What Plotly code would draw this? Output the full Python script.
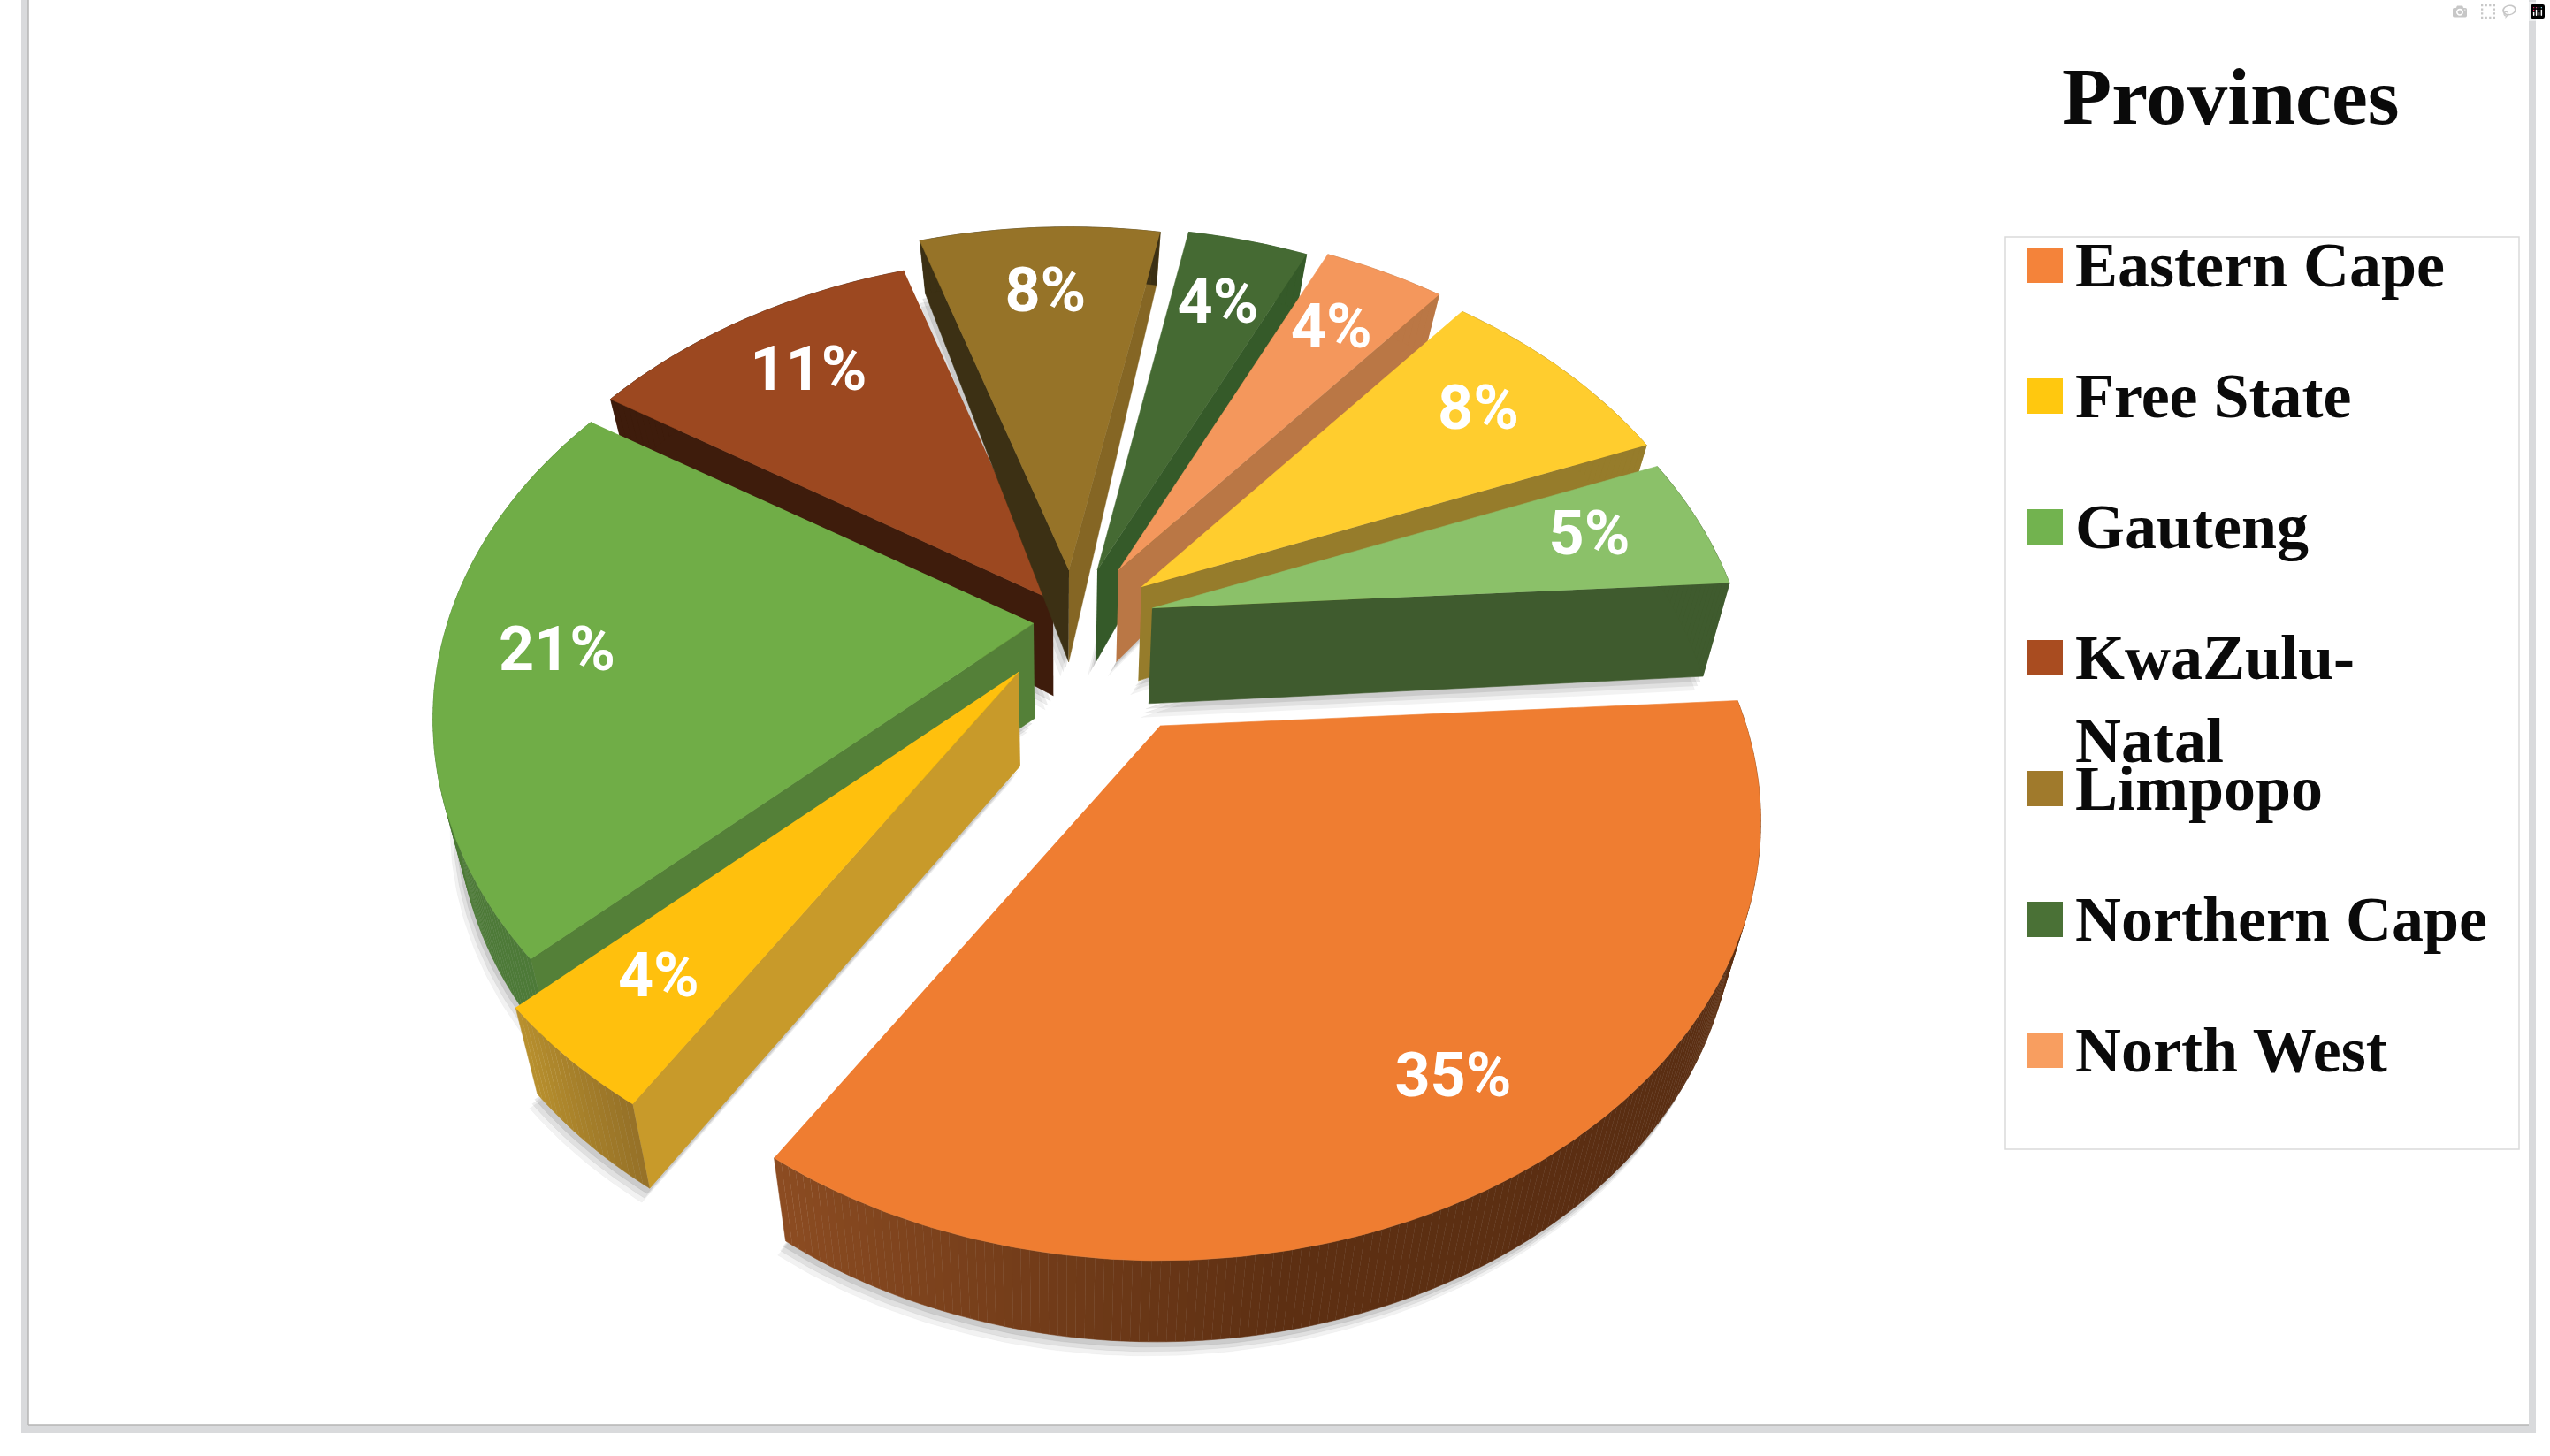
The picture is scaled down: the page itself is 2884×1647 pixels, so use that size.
import numpy as np
import plotly.graph_objects as go

# ---- data ----
categories = ["Eastern Cape", "Free State", "Gauteng", "KwaZulu-Natal", "Limpopo",
              "Northern Cape", "North West", "Western Cape", "Mpumalanga"]
values = [35, 4, 21, 11, 8, 4, 4, 8, 5]
legend_labels = ["Eastern Cape", "Free State", "Gauteng", "KwaZulu-<br>Natal", "Limpopo",
                 "Northern Cape", "North West"]
title_text = "Provinces"

# ---- style ----
top_colors = ["#EF7D31", "#FFC00D", "#70AD47", "#9C4820", "#967328", "#456A33", "#F4975C", "#FFCD2E", "#8BC169"]
face_start = [None, "#C89A2A", "#548038", "#3E1C0C", "#3C3014", None, None, None, None]
face_end = [None, None, None, None, "#856624", "#355A29", "#BA7745", "#967C2B", "#3F5B2E"]
wall_stops = [["#6A3713", "#5A2E12", "#5E3013", "#8C4C22"], ["#977228", "#B8902E"], ["#4D7A38", "#528038"],
              ["#3E1C0C", "#3E1C0C"], ["#3C3014", "#3C3014"], ["#355A29", "#355A29"], ["#BA7745", "#BA7745"],
              ["#967C2B", "#967C2B"], ["#3F5B2E", "#3F5B2E"]]
legend_colors = ["#F4833A", "#FFC80F", "#72B34F", "#A94C20", "#A07A2C", "#4A7136", "#F89E60"]
# explode offsets of every slice's point from the pie centre, in pixels
center = (1230, 690)
pull_x = [82, -78, -61, -39, -21, 11, 35, 61, 73]
pull_y = [131, 70, 15, -11, -45, -45, -45, -26, -2]
draw_order = [3, 4, 5, 6, 7, 8, 2, 1, 0]

START = 86.5       # degrees, clockwise from the back of the pie
A, B, K = 663, 473, 0.218   # projected radii and perspective strength
SERIF = "Liberation Serif"


def ray(theta_deg):
    t = np.radians(theta_deg)
    s, c = np.sin(t), np.cos(t)
    w = 1 + K * c
    return A * s / w, -B * c / w


def drop(x, y):
    """Point on the underside of the pie below a point on its top face."""
    x, y = np.asarray(x, float), np.asarray(y, float)
    return x + (1200 - x) * 0.04, y + np.interp(y, [276, 680, 1400], [60, 108, 92])


def hex_rgb(h):
    return np.array([int(h[i:i + 2], 16) for i in (1, 3, 5)], float)


def mix(stops, t):
    cols = np.array([hex_rgb(c) for c in stops])
    pos = np.linspace(0, 1, len(stops))
    rgb = [np.interp(t, pos, cols[:, i]) for i in range(3)]
    return "rgb(%d,%d,%d)" % tuple(rgb)


fig = go.Figure()


def poly(x, y, color, name):
    fig.add_trace(go.Scatter(x=list(x), y=list(y), mode="lines", fill="toself", fillcolor=color,
                             line=dict(width=0.6, color=color), hoverinfo="skip", showlegend=False, name=name))


total = sum(values)
edges = START + np.concatenate([[0], np.cumsum(values)]) * 360 / total
geom = []
for i, v in enumerate(values):
    th = np.linspace(edges[i], edges[i + 1], max(8, int(v * 5)))
    rx, ry = ray(th)
    ax, ay = center[0] + pull_x[i], center[1] + pull_y[i]
    geom.append(dict(th=th, ax=ax, ay=ay, x=ax + rx, y=ay + ry))

# soft shadow under the pie
for dx, dy, alpha in [(-9, 16, 0.05), (-6, 11, 0.07), (-3, 6, 0.09)]:
    for i in range(len(values)):
        g = geom[i]
        bx, by = drop(np.r_[g["ax"], g["x"]], np.r_[g["ay"], g["y"]])
        poly(bx + dx, by + dy, "rgba(0,0,0,%g)" % alpha, categories[i] + " shadow")

for i in draw_order:
    g = geom[i]
    abx, aby = drop(g["ax"], g["ay"])
    # cut faces
    for col, k in ((face_start[i], 0), (face_end[i], -1)):
        if col:
            ex, ey = g["x"][k], g["y"][k]
            bx, by = drop(ex, ey)
            poly([g["ax"], ex, bx, abx], [g["ay"], ey, by, aby], col, categories[i] + " side")
    # outer wall, split for the shading
    n = len(g["x"])
    bx, by = drop(g["x"], g["y"])
    for j in range(n - 1):
        tt = j / max(n - 2, 1)
        poly([g["x"][j], g["x"][j + 1], bx[j + 1], bx[j]], [g["y"][j], g["y"][j + 1], by[j + 1], by[j]],
             mix(wall_stops[i], tt), categories[i] + " wall")
    # top face
    poly(np.r_[g["ax"], g["x"]], np.r_[g["ay"], g["y"]], top_colors[i], categories[i])

# data labels
lx, ly, lt = [], [], []
for i, v in enumerate(values):
    rx, ry = ray((edges[i] + edges[i + 1]) / 2)
    lx.append(geom[i]["ax"] + 0.8 * rx)
    ly.append(geom[i]["ay"] + 0.8 * ry)
    lt.append("%d%%" % v)
fig.add_trace(go.Scatter(x=lx, y=ly, mode="text", text=lt, textposition="middle center",
                         textfont=dict(family="Roboto", size=70, color="white", weight="bold"),
                         hoverinfo="skip", showlegend=False, name="labels"))

# legend
LEG_X, LEG_Y0, LEG_STEP = 2313, 300, 148
leg_y = [LEG_Y0 + LEG_STEP * i for i in range(len(legend_labels))]
fig.add_trace(go.Scatter(x=[LEG_X] * len(leg_y), y=leg_y, mode="markers",
                         marker=dict(symbol="square", size=40, color=legend_colors, line=dict(width=0)),
                         hoverinfo="skip", showlegend=False, name="legend"))
annotations = []
for lab, y in zip(legend_labels, leg_y):
    two = "<br>" in lab
    annotations.append(dict(x=2345, y=y + (47 if two else 0), xref="x", yref="y", xanchor="left", yanchor="middle",
                            align="left", showarrow=False, text="<b>%s</b>" % lab,
                            font=dict(family=SERIF, size=72, color="#0a0a0a")))
annotations.append(dict(x=2330, y=109, xref="x", yref="y", xanchor="left", yanchor="middle", showarrow=False,
                        text="<b>%s</b>" % title_text, font=dict(family=SERIF, size=92, color="#0a0a0a")))

band = "#D9DADC"
edge = "#B5B5B5"
shapes = [
    dict(type="rect", x0=2268, x1=2849, y0=268, y1=1300, line=dict(color="#DADADA", width=1.5), fillcolor="rgba(0,0,0,0)", layer="below"),
    dict(type="rect", x0=24, x1=32, y0=0, y1=1621, line=dict(width=0), fillcolor=band, layer="below"),
    dict(type="rect", x0=2860, x1=2868, y0=0, y1=1621, line=dict(width=0), fillcolor=band, layer="below"),
    dict(type="rect", x0=24, x1=2868, y0=1612, y1=1621, line=dict(width=0), fillcolor=band, layer="below"),
    dict(type="line", x0=32, x1=32, y0=0, y1=1612, line=dict(color=edge, width=1.5), layer="below"),
    dict(type="line", x0=32, x1=2860, y0=1612, y1=1612, line=dict(color=edge, width=1.5), layer="below"),
]

fig.update_layout(width=2884, height=1647, margin=dict(l=0, r=0, t=0, b=0),
                  paper_bgcolor="white", plot_bgcolor="white", showlegend=False,
                  xaxis=dict(range=[0, 2884], visible=False, fixedrange=True),
                  yaxis=dict(range=[1647, 0], visible=False, fixedrange=True),
                  annotations=annotations, shapes=shapes)
fig.write_html("out.html", post_script="document.body.style.margin='0';")
